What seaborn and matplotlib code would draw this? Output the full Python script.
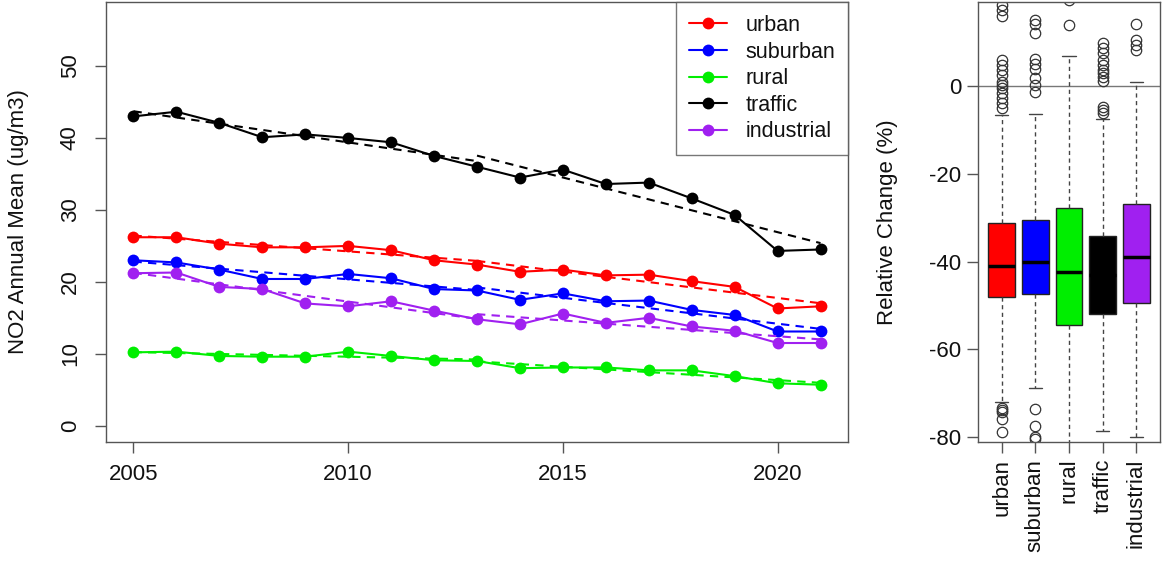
import numpy as np
import pandas as pd
import matplotlib
matplotlib.use("Agg")
import matplotlib.pyplot as plt
from matplotlib.lines import Line2D
import seaborn as sns

# ---- annual mean NO2 by station type ----
years = list(range(2005, 2022))
urban = [26.2, 26.2, 25.3, 24.8, 24.8, 25.0, 24.4, 23.0, 22.4, 21.4, 21.7, 20.9, 21.0, 20.1, 19.3, 16.3, 16.6]
suburban = [23.0, 22.7, 21.7, 20.4, 20.4, 21.1, 20.5, 19.0, 18.8, 17.5, 18.4, 17.3, 17.4, 16.1, 15.4, 13.1, 13.1]
rural = [10.2, 10.3, 9.7, 9.6, 9.6, 10.3, 9.7, 9.1, 9.0, 8.0, 8.1, 8.1, 7.7, 7.7, 6.9, 5.9, 5.7]
traffic = [43.0, 43.65, 42.1, 40.1, 40.5, 40.0, 39.4, 37.5, 36.0, 34.5, 35.6, 33.6, 33.8, 31.6, 29.3, 24.3, 24.5]
industrial = [21.2, 21.3, 19.3, 19.0, 17.0, 16.6, 17.3, 16.0, 14.8, 14.1, 15.6, 14.3, 15.0, 13.8, 13.2, 11.5, 11.5]

types = ["urban", "suburban", "rural", "traffic", "industrial"]
colors = ["#FF0000", "#0000FF", "#00EE00", "#000000", "#A020F0"]
trend_periods = [(2005, 2013), (2013, 2021)]

# ---- relative change per station (box statistics) ----
box_q3 = [-31.2, -30.5, -27.9, -34.2, -26.9]
box_med = [-41.0, -40.2, -42.4, -43.0, -38.9]
box_q1 = [-48.0, -47.4, -54.4, -51.9, -49.5]
whisker_hi = [-6.6, -6.4, 6.8, -7.6, 0.8]
whisker_lo = [-72.1, -68.7, -86.0, -78.7, -80.0]
fliers_urban = [18.5, 17.3, 15.8, 5.9, 4.8, 3.6, 2.5, 0.9, 0.2, -0.5, -1.6, -2.7, -3.9, -5.0,
                -73.3, -73.8, -74.3, -75.9, -78.8]
fliers_suburban = [15.0, 14.2, 12.0, 6.2, 5.0, 3.8, 1.8, 0.2, -1.4, -73.6, -77.4, -79.9, -80.5]
fliers_rural = [19.6, 13.9]
fliers_traffic = [9.7, 8.6, 7.4, 5.9, 4.8, 3.6, 2.9, 2.1, 1.0, -4.7, -5.5, -6.2]
fliers_industrial = [14.0, 10.5, 9.3, 8.2]

sns.set_theme(style="ticks")
plt.rcParams["font.family"] = ["Liberation Sans", "DejaVu Sans"]
plt.rcParams["axes.unicode_minus"] = False
plt.rcParams["text.color"] = "#111111"
plt.rcParams["axes.labelcolor"] = "#111111"
plt.rcParams["xtick.labelcolor"] = "#111111"
plt.rcParams["ytick.labelcolor"] = "#111111"
frame_col = "#555555"

df = pd.DataFrame({
    "year": years * len(types),
    "value": urban + suburban + rural + traffic + industrial,
    "type": [t for t in types for _ in years],
})

fig = plt.figure(figsize=(11.63, 5.69), dpi=100)
W, H = 1163, 569
ax = fig.add_axes([106 / W, (H - 442) / H, (848 - 106) / W, (442 - 2) / H])
bx = fig.add_axes([978 / W, (H - 442) / H, (1160 - 978) / W, (442 - 2) / H])

# ---- left panel: yearly means with piecewise linear trends ----
sns.lineplot(data=df, x="year", y="value", hue="type", hue_order=types,
             palette=colors, marker="o", markersize=8.5, markeredgewidth=0,
             linewidth=1.5, ax=ax)
ax.get_legend().remove()

series = dict(zip(types, [urban, suburban, rural, traffic, industrial]))
for t, c in zip(types, colors):
    y = np.array(series[t])
    x = np.array(years)
    for a, b in trend_periods:
        m = (x >= a) & (x <= b)
        sns.regplot(x=x[m], y=y[m], scatter=False, ci=None, truncate=True,
                    color=c, line_kws=dict(linestyle=(0, (4, 3)), linewidth=1.5),
                    ax=ax)

ax.set_xlim(2004.36, 2021.64)
ax.set_ylim(-2.26, 58.9)
ax.set_xticks([2005, 2010, 2015, 2020])
ax.set_yticks([0, 10, 20, 30, 40, 50])
ax.set_xlabel("")
ax.set_ylabel("NO2 Annual Mean (ug/m3)", fontsize=16)
ax.yaxis.set_label_coords(-0.104, 0.5)
ax.tick_params(axis="both", labelsize=16, length=8, width=1, color=frame_col,
               direction="out")
ax.tick_params(axis="x", pad=8)
ax.tick_params(axis="y", pad=10)
for lab in ax.get_yticklabels():
    lab.set_rotation(90)
    lab.set_va("center")
for s in ax.spines.values():
    s.set_visible(True)
    s.set_color(frame_col)
    s.set_linewidth(1)

leg_handles = [Line2D([0], [0], color=c, lw=1.5, marker="o", markersize=8.5,
                      markeredgewidth=0) for c in colors]
leg = ax.legend(leg_handles, types, loc="upper right", fontsize=15.5,
                frameon=True, fancybox=False, borderaxespad=0,
                handlelength=1.75, handletextpad=0.85, labelspacing=0.26,
                borderpad=0.6)
leg.get_frame().set_edgecolor(frame_col)
leg.get_frame().set_linewidth(1)

# ---- right panel: distribution of relative change ----
fliers = [fliers_urban, fliers_suburban, fliers_rural, fliers_traffic, fliers_industrial]
stats = [dict(med=box_med[i], q1=box_q1[i], q3=box_q3[i],
              whislo=whisker_lo[i], whishi=whisker_hi[i],
              fliers=np.array(fliers[i]), label=types[i])
         for i in range(len(types))]
bx.axhline(0, color="#777777", linewidth=1, zorder=0)
bp = bx.bxp(stats, positions=range(1, 6), widths=0.8, capwidths=0.4,
            patch_artist=True, showfliers=True,
            boxprops=dict(edgecolor="#222222", linewidth=1),
            medianprops=dict(color="black", linewidth=2.5),
            whiskerprops=dict(color="#444444", linewidth=1, linestyle=(0, (3, 2.5))),
            capprops=dict(color="#444444", linewidth=1),
            flierprops=dict(marker="o", markersize=7.5, markerfacecolor="none",
                            markeredgecolor="#333333", markeredgewidth=0.9))
for patch, c in zip(bp["boxes"], colors):
    patch.set_facecolor(c)

bx.set_xlim(0.3, 5.7)
bx.set_ylim(-81.1, 19.1)
bx.set_yticks([-80, -60, -40, -20, 0])
bx.set_xticks(range(1, 6))
bx.set_xticklabels(types, rotation=90)
bx.set_ylabel("Relative Change (%)", fontsize=16)
bx.yaxis.set_label_coords(-0.44, 0.5)
bx.tick_params(axis="both", labelsize=16, length=8, width=1, color=frame_col,
               direction="out")
bx.tick_params(axis="x", pad=4)
bx.tick_params(axis="y", pad=4)
for s in bx.spines.values():
    s.set_visible(True)
    s.set_color(frame_col)
    s.set_linewidth(1)

fig.savefig("out.png", dpi=100)
